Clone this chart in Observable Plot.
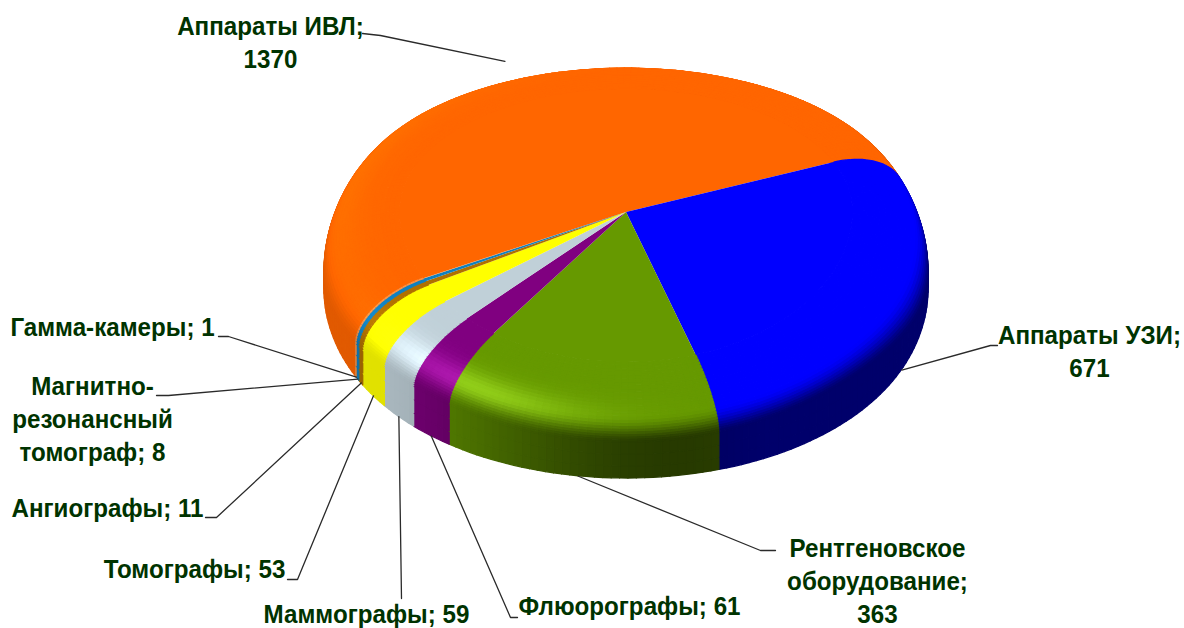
<!DOCTYPE html>
<html><head><meta charset="utf-8">
<style>html,body{margin:0;padding:0;background:#fff}</style>
<script src="https://cdn.jsdelivr.net/npm/d3@7"></script>
<script src="https://cdn.jsdelivr.net/npm/@observablehq/plot@0.6"></script>
</head><body><div id="chart"></div>
<script>
const categories = ["Аппараты ИВЛ","Аппараты УЗИ","Рентгеновское оборудование","Флюорографы","Маммографы","Томографы","Ангиографы","Магнитно-резонансный томограф","Гамма-камеры"];
const values = [1370,671,363,61,59,53,11,8,1];
const colors = ["#ff6600","#0000ff","#669900","#800080","#c0d0d8","#ffff00","#b07000","#0f80c0","#ff9040"];
const labelTexts = ["Аппараты ИВЛ;\n1370","Аппараты УЗИ;\n671","Рентгеновское\nоборудование;\n363","Флюорографы; 61","Маммографы; 59","Томографы; 53","Ангиографы; 11","Магнитно-\nрезонансный\nтомограф; 8","Гамма-камеры; 1"];
// label layout (page pixels): text centre, elbow, end of the elbow next to the text
const labelX = [270,1089,877,629,366,194,107,92,112];
const labelY = [40,349,579,604,612,567,506,417,325];
const elbowA = [[362,33],[997,345],[775,550],[517,617],[401,598],[287,579],[205,517],[156,395],[218,336]];
const elbowB = [[380,35],[990,345],[760,550],[510,617],[401,598],[297,579],[216,517],[168,395],[228,336]];

// pie geometry
const cx=626, cy=212, rx=302, RY=182, RK=18, rho=.75, bevelDrop=30, bevelExtra=30, wallDrop=66, wallExtra=12;
const rad=Math.PI/180, startAngle=69;
const warp=t=>{
  const a=((t%360)+360)%360;
  if(a>161&&a<341) return t+4.5*Math.sin((a-161)*rad);
  if(a>=69&&a<=161) return t-2.5*(161-a)/92;
  const b=a>=341?a-341:a+19;
  return t-2.5*b/88;
};
const project=(t,r,bev,wall)=>{ // t degrees clockwise from back, r radial, bev/wall = share down the bevel and the wall
  const p=warp(t)*rad,s=Math.sin(p),c=Math.cos(p),v=r*c;
  const ry=RY-RK*Math.tanh(4*v)/Math.tanh(4);
  const q=1-c*c, bd=bevelDrop+bevelExtra*q*q*q*q, wd=wallDrop+wallExtra*q;
  return [cx+rx*r*s, cy-v*ry+bd*bev+(wd-bd)*wall];
};
const total=d3.sum(values);
let acc=startAngle;
// clockwise run starts with УЗИ; ИВЛ closes the circle
const order=[1,2,3,4,5,6,7,8,0];
const slices=[];
for(const i of order){const span=values[i]/total*360; slices[i]={i,a0:acc,a1:acc+span,color:colors[i]};acc+=span;}

// profile rows: outer to inner
const rows=[];
const WR=3,BR=26;
for(let k=0;k<=WR;k++) rows.push({r:1,bev:1,wall:1-k/WR,a:1});
for(let k=1;k<=BR;k++){const ph=(1-k/BR)*Math.PI/2; rows.push({r:rho+(1-rho)*Math.sin(ph),bev:1-Math.cos(ph),wall:0,a:ph/(Math.PI/2)});}

const sstep=(a,b,x)=>{const u=Math.min(1,Math.max(0,(x-a)/(b-a)));return u*u*(3-2*u);};
const shade=(base,t,a)=>{
  let deg=((warp(t)%360)+360)%360;
  let wf;
  if(deg<150) wf=.42+.28*sstep(90,40,deg);
  else if(deg<170) wf=.42-.04*sstep(150,170,deg);
  else if(deg<330) wf=.38+.5*sstep(170,235,deg);
  else wf=.88;
  const inner=sstep(.6,.98,a);
  let f=1+(wf-1)*inner;
  const g=Math.exp(-(((a-.6)/.17)**2))*Math.exp(-(((deg-212)/22)**2));
  const g2=Math.exp(-(((a-.55)/.25)**2))*Math.exp(-(((deg-290)/40)**2));
  f=f*(1+.3*g+.1*g2);
  const sp=.1*g;
  const col=d3.rgb(base);
  const m=v=>{const w=Math.min(255,v*f);return Math.min(255,w+(255-w)*sp);};
  return d3.rgb(m(col.r),m(col.g),m(col.b)).formatHex();
};
const quads=[],tops=[];
let id=0;
for(let ri=0;ri<rows.length-1;ri++){
  const A=rows[ri],B=rows[ri+1],am=(A.a+B.a)/2;
  for(const sl of slices){
    const n=Math.max(1,Math.ceil((sl.a1-sl.a0)/1.5));
    for(let j=0;j<n;j++){
      const t0=sl.a0+(sl.a1-sl.a0)*j/n,t1=sl.a0+(sl.a1-sl.a0)*(j+1)/n;
      const fill=shade(sl.color,(t0+t1)/2,am);
      id++;
      for(const t of [t0,t1]){
        const P=project(t,A.r,A.bev,A.wall),Q=project(t,B.r,B.bev,B.wall);
        quads.push({z:id,x1:P[0],y1:P[1],x2:Q[0],y2:Q[1],fill});
      }
    }
  }
}
for(const sl of slices){
  const n=Math.max(1,Math.ceil((sl.a1-sl.a0)/1.5));
  for(let j=0;j<=n;j++){
    const t=sl.a0+(sl.a1-sl.a0)*j/n,P=project(t,rho,0,0);
    tops.push({z:sl.i,x1:cx,y1:cy,x2:P[0],y2:P[1],fill:sl.color});
  }
}
const leaders=[];
slices.forEach((sl,i)=>{
  const m=(sl.a0+sl.a1)/2;
  let end=project(m,1,1,1);
  if(i===0){const q=project(m,1,0,0); end=[q[0]+8,q[1]-3];}
  [elbowA[i],elbowB[i],end].forEach(q=>leaders.push({i,x:q[0],y:q[1]}));
});
const labels=labelTexts.map((text,i)=>({text,x:labelX[i],y:labelY[i]}));

const plot=Plot.plot({
  width:1184,height:628,margin:0,
  x:{type:"identity",axis:null},y:{type:"identity",axis:null},color:{type:"identity"},
  marks:[
    Plot.area(quads,{x1:"x1",y1:"y1",x2:"x2",y2:"y2",z:"z",fill:"fill",stroke:"fill",strokeWidth:1.3}),
    Plot.area(tops,{x1:"x1",y1:"y1",x2:"x2",y2:"y2",z:"z",fill:"fill"}),
    Plot.line(leaders,{x:"x",y:"y",z:"i",stroke:"#2a2a2a",strokeWidth:1.3}),
    Plot.text(labels,{x:"x",y:"y",text:"text",fill:"#003300",fontSize:26,fontWeight:"bold",lineHeight:1.27,fontFamily:"'Liberation Sans',sans-serif"})
  ]
});
plot.querySelectorAll("text").forEach(t=>{
  const tr=t.getAttribute("transform");
  if(tr) t.setAttribute("transform",tr+" scale(.93,1)");
});
document.getElementById("chart").appendChild(plot);
</script></body></html>
